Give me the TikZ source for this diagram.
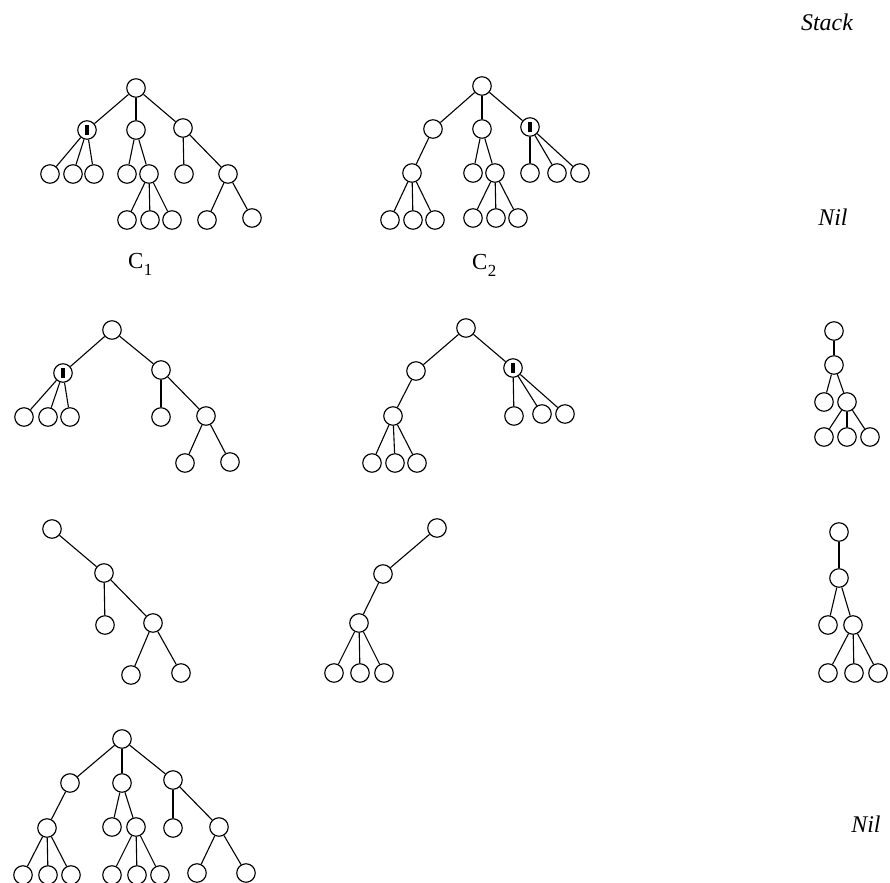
\documentclass[tikz,border=0pt]{standalone}
\usepackage{fontspec}
\setmainfont{Liberation Serif}
\usepackage{tikz}

\newcommand{\cfg}[1]{C\kern0.3bp\raisebox{-7bp}{\fontsize{17}{17}\selectfont #1}}

\begin{document}
\begin{tikzpicture}[x=1bp,y=-1bp,
  vert/.style={circle,draw,inner sep=0pt,minimum size=18.5bp,line width=1.15bp},
  marked/.style={vert,path picture={\fill (path picture bounding box.center)
      +(-2.2bp,-4.6bp) rectangle +(2.4bp,4.6bp);}},
  edge/.style={line width=1.1bp},
  word/.style={font=\fontsize{24}{28}\selectfont\itshape,anchor=base},
  tag/.style={font=\fontsize{23}{27}\selectfont,anchor=base west}
]
  \useasboundingbox (0,0) rectangle (890,883);

  % configuration C1
  \node[marked] (a1) at (87,130) {};
  \foreach \n/\x/\y in {a0/136/88, a2/136/130, a3/183/128,
      a11/50/174, a12/73/174, a13/94/174, a21/127/174, a22/149/174,
      a31/184/174, a32/228/174, a221/127/220, a222/150/220, a223/172/220,
      a321/207/220, a322/252/218}
    \node[vert] (\n) at (\x,\y) {};
  \foreach \p/\c in {a0/a1, a0/a2, a0/a3, a1/a11, a1/a12, a1/a13, a2/a21,
      a2/a22, a3/a31, a3/a32, a22/a221, a22/a222, a22/a223, a32/a321, a32/a322}
    \draw[edge] (\p) -- (\c);
  \node[tag,inner sep=0pt] (lab1) at (128,268) {\cfg{1}};

  % configuration C2
  \node[marked] (b3) at (530,127) {};
  \foreach \n/\x/\y in {b0/482/86, b1/433/129, b2/482/129,
      b11/412/173, b21/473/173, b22/495/173, b31/530/173, b32/557/173,
      b33/580/173, b111/390/220, b112/413/220, b113/435/220,
      b221/473/218, b222/496/218, b223/518/218}
    \node[vert] (\n) at (\x,\y) {};
  \foreach \p/\c in {b0/b1, b0/b2, b0/b3, b1/b11, b2/b21, b2/b22, b3/b31,
      b3/b32, b3/b33, b11/b111, b11/b112, b11/b113, b22/b221, b22/b222, b22/b223}
    \draw[edge] (\p) -- (\c);
  \node[tag,inner sep=0pt] (lab2) at (472,269) {\cfg{2}};

  % stack column
  \node[word] (stack) at (827,30) {Stack};
  \node[word] (niltop) at (833,225) {Nil};

  % second row
  \node[marked] (c1) at (63,373) {};
  \foreach \n/\x/\y in {c0/112/330, c2/161/370, c11/24/417, c12/48/417,
      c13/70/417, c21/161/417, c22/206/416, c221/185/463, c222/230/462}
    \node[vert] (\n) at (\x,\y) {};
  \foreach \p/\c in {c0/c1, c0/c2, c1/c11, c1/c12, c1/c13, c2/c21, c2/c22,
      c22/c221, c22/c222}
    \draw[edge] (\p) -- (\c);

  \node[marked] (d2) at (513,368) {};
  \foreach \n/\x/\y in {d0/466/328, d1/416/371, d11/393/416, d21/514/416,
      d22/542/414, d23/565/414, d111/372/463, d112/395/463, d113/417/463}
    \node[vert] (\n) at (\x,\y) {};
  \foreach \p/\c in {d0/d1, d0/d2, d1/d11, d2/d21, d2/d22, d2/d23,
      d11/d111, d11/d112, d11/d113}
    \draw[edge] (\p) -- (\c);

  \foreach \n/\x/\y in {e0/834/331, e1/834/365, e11/824/402, e12/847/402,
      e121/824/437, e122/847/437, e123/870/437}
    \node[vert] (\n) at (\x,\y) {};
  \foreach \p/\c in {e0/e1, e1/e11, e1/e12, e12/e121, e12/e122, e12/e123}
    \draw[edge] (\p) -- (\c);

  % third row
  \foreach \n/\x/\y in {f0/52/529, f1/104/573, f11/105/625, f12/153/623,
      f121/131/675, f122/181/673}
    \node[vert] (\n) at (\x,\y) {};
  \foreach \p/\c in {f0/f1, f1/f11, f1/f12, f12/f121, f12/f122}
    \draw[edge] (\p) -- (\c);

  \foreach \n/\x/\y in {g0/437/528, g1/383/574, g11/359/623,
      g111/334/673, g112/360/673, g113/384/673}
    \node[vert] (\n) at (\x,\y) {};
  \foreach \p/\c in {g0/g1, g1/g11, g11/g111, g11/g112, g11/g113}
    \draw[edge] (\p) -- (\c);

  \foreach \n/\x/\y in {h0/839/532, h1/839/578, h11/828/625, h12/853/625,
      h121/828/673, h122/854/673, h123/878/673}
    \node[vert] (\n) at (\x,\y) {};
  \foreach \p/\c in {h0/h1, h1/h11, h1/h12, h12/h121, h12/h122, h12/h123}
    \draw[edge] (\p) -- (\c);

  % last row
  \foreach \n/\x/\y in {k0/122/739, k1/70/783, k2/122/783, k3/173/780,
      k11/47/828, k21/112/827, k22/136/827, k31/173/828, k32/219/827,
      k111/23/875, k112/48/875, k113/71/875, k221/112/875, k222/137/875,
      k223/160/875, k321/197/873, k322/246/873}
    \node[vert] (\n) at (\x,\y) {};
  \foreach \p/\c in {k0/k1, k0/k2, k0/k3, k1/k11, k2/k21, k2/k22, k3/k31,
      k3/k32, k11/k111, k11/k112, k11/k113, k22/k221, k22/k222, k22/k223,
      k32/k321, k32/k322}
    \draw[edge] (\p) -- (\c);
  \node[word] (nilbot) at (866,832) {Nil};
\end{tikzpicture}
\end{document}
